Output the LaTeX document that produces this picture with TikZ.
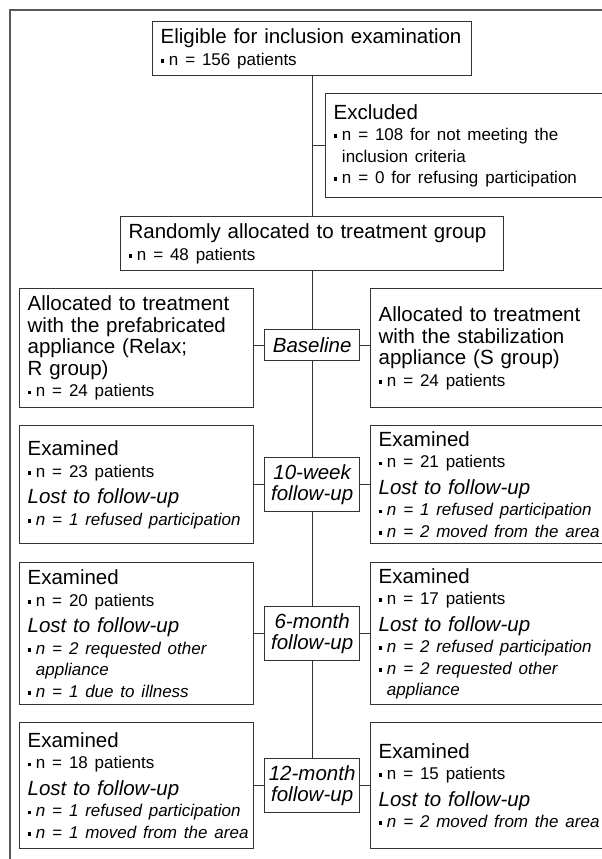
\documentclass[tikz,border=0pt]{standalone}
\usepackage{fontspec}
\setmainfont{Liberation Sans}

\definecolor{boxgray}{gray}{0.2}
\definecolor{framegray}{gray}{0.35}

\newcommand{\hd}{\fontsize{20.5}{21.5}\selectfont}
\newcommand{\sq}{\rule[0.15em]{0.22em}{0.22em}\hspace{0.27em}}
\newcommand{\itm}[1]{\mbox{\fontsize{17}{21.5}\selectfont\sq #1}}
\newcommand{\cnt}[1]{\mbox{\fontsize{17}{21.5}\selectfont\hspace{0.49em}#1}}

\tikzset{
	box/.style={draw=boxgray, line width=1.3pt, inner xsep=8pt, inner ysep=0pt,
		align=left, anchor=north west, font=\hd},
	tbox/.style={draw=boxgray, line width=1.3pt, inner sep=0pt, align=center,
		anchor=north west, minimum width=95pt, font=\hd\itshape},
	link/.style={draw=boxgray, line width=1.3pt}
}

\begin{document}
\begin{tikzpicture}[x=1pt,y=-1pt]
	\clip (0,0) rectangle (602,859);
	\draw[framegray, line width=2pt] (10,870) -- (10,10) -- (610,10);

	\node[box, text width=303pt, minimum height=54pt] (elig) at (152,21)
		{Eligible for inclusion examination\\ \itm{n = 156 patients}};
	\node[box, text width=269pt, minimum height=104pt] (excl) at (325,93)
		{Excluded\\ \itm{n = 108 for not meeting the}\\ \cnt{inclusion criteria}\\
		\itm{n = 0 for refusing participation}};
	\node[box, text width=367pt, minimum height=54pt] (rand) at (120,216)
		{Randomly allocated to treatment group\\ \itm{n = 48 patients}};

	% baseline
	\node[box, text width=218pt, minimum height=119pt] (rbase) at (19,288)
		{Allocated to treatment\\ with the prefabricated\\ appliance (Relax;\\ R group)\\
		\itm{n = 24 patients}};
	\node[box, text width=226pt, minimum height=119pt] (sbase) at (370,288)
		{Allocated to treatment\\ with the stabilization\\ appliance (S group)\\
		\itm{n = 24 patients}};
	\node[tbox, minimum height=31pt] (tbase) at (264,329) {Baseline};

	% 10 weeks
	\node[box, text width=218pt, minimum height=118pt] (r10) at (19,425)
		{Examined\\ \itm{n = 23 patients}\\[5pt] \textit{Lost to follow-up}\\
		\itm{\itshape n = 1 refused participation}};
	\node[box, text width=226pt, minimum height=118pt] (s10) at (370,425)
		{Examined\\ \itm{n = 21 patients}\\[5pt] \textit{Lost to follow-up}\\
		\itm{\itshape n = 1 refused participation}\\ \itm{\itshape n = 2 moved from the area}};
	\node[tbox, minimum height=54pt] (t10) at (264,457) {10-week\\ follow-up};

	% 6 months
	\node[box, text width=218pt, minimum height=142pt] (r6) at (19,562)
		{Examined\\ \itm{n = 20 patients}\\[5pt] \textit{Lost to follow-up}\\
		\itm{\itshape n = 2 requested other}\\ \cnt{\itshape appliance}\\
		\itm{\itshape n = 1 due to illness}};
	\node[box, text width=226pt, minimum height=142pt] (s6) at (370,562)
		{Examined\\ \itm{n = 17 patients}\\[5pt] \textit{Lost to follow-up}\\
		\itm{\itshape n = 2 refused participation}\\ \itm{\itshape n = 2 requested other}\\
		\cnt{\itshape appliance}};
	\node[tbox, minimum height=54pt] (t6) at (264,606) {6-month\\ follow-up};

	% 12 months
	\node[box, text width=218pt, minimum height=126pt] (r12) at (19,722)
		{Examined\\ \itm{n = 18 patients}\\[5pt] \textit{Lost to follow-up}\\
		\itm{\itshape n = 1 refused participation}\\ \itm{\itshape n = 1 moved from the area}};
	\node[box, text width=226pt, minimum height=126pt] (s12) at (370,722)
		{Examined\\ \itm{n = 15 patients}\\[5pt] \textit{Lost to follow-up}\\
		\itm{\itshape n = 2 moved from the area}};
	\node[tbox, minimum height=54pt] (t12) at (264,758) {12-month\\ follow-up};

	\draw[link] (elig.south) -- (rand.north);
	\draw[link] (excl.west -| elig.south) -- (excl.west);
	\draw[link] (rand.south) -- (tbase.north);
	\draw[link] (tbase.south) -- (t10.north);
	\draw[link] (t10.south) -- (t6.north);
	\draw[link] (t6.south) -- (t12.north);
	\foreach \t/\r/\s in {tbase/rbase/sbase, t10/r10/s10, t6/r6/s6, t12/r12/s12}{
		\draw[link] (\t.west) -- (\t.west -| \r.east);
		\draw[link] (\t.east) -- (\t.east -| \s.west);
	}
\end{tikzpicture}
\end{document}
